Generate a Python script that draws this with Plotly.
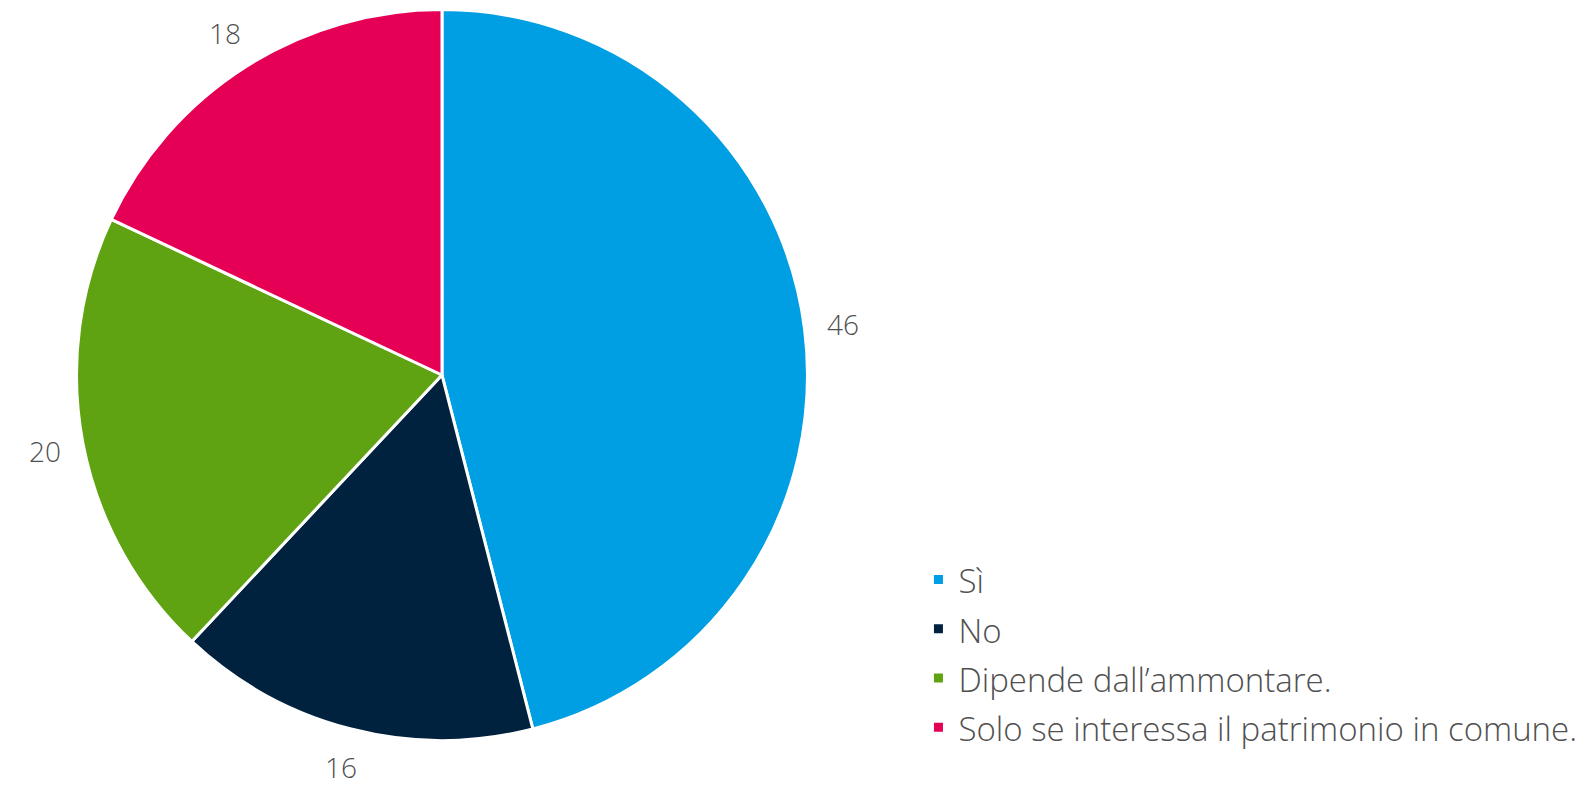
import math
import plotly.graph_objects as go

labels = ["Sì", "No", "Dipende dall’ammontare.", "Solo se interessa il patrimonio in comune."]
values = [46, 16, 20, 18]
colors = ["#009FE3", "#00223F", "#5FA312", "#E50056"]

W, H = 1589, 787
FONT = "Open Sans"
LEGEND_PX = 33
LABEL_PX = 28
TEXT_COLOR = "#505050"

# pie placement (paper domain)
dom_x = [0.04814, 0.50818]
dom_y = [0.0591, 0.9879]
cx = (dom_x[0] + dom_x[1]) / 2
cy = (dom_y[0] + dom_y[1]) / 2
radius_px = (dom_x[1] - dom_x[0]) * W / 2
label_r_px = radius_px + 39

legend_labels = [f"<span style='font-size:{LEGEND_PX}px'>{l}</span>" for l in labels]

fig = go.Figure(go.Pie(
    labels=legend_labels,
    values=values,
    marker=dict(colors=colors, line=dict(color="white", width=3)),
    sort=False,
    direction="clockwise",
    rotation=0,
    textinfo="none",
    hoverinfo="label+value",
    domain=dict(x=dom_x, y=dom_y),
))

# value labels placed outside each slice, at the slice's mid angle
total = sum(values)
cum = 0
for v in values:
    mid = (cum + v / 2) / total * 2 * math.pi
    cum += v
    fig.add_annotation(
        x=cx + label_r_px * math.sin(mid) / W,
        y=cy + label_r_px * math.cos(mid) / H,
        xref="paper", yref="paper",
        text=str(v), showarrow=False,
        xanchor="center", yanchor="middle",
        borderpad=0,
        font=dict(size=LABEL_PX, color=TEXT_COLOR, family=FONT, weight=300),
    )

fig.update_layout(
    width=W, height=H,
    margin=dict(l=0, r=0, t=0, b=0),
    paper_bgcolor="white",
    font=dict(family=FONT, color=TEXT_COLOR, weight=300),
    showlegend=True,
    legend=dict(
        x=0.578, y=0.037, xanchor="left", yanchor="bottom",
        font=dict(size=35.6, color=TEXT_COLOR, family=FONT, weight=300),
        bgcolor="rgba(0,0,0,0)",
    ),
)

fig.write_html(
    "out.html",
    config={"displayModeBar": False},
    post_script="document.body.style.margin='0';",
)
